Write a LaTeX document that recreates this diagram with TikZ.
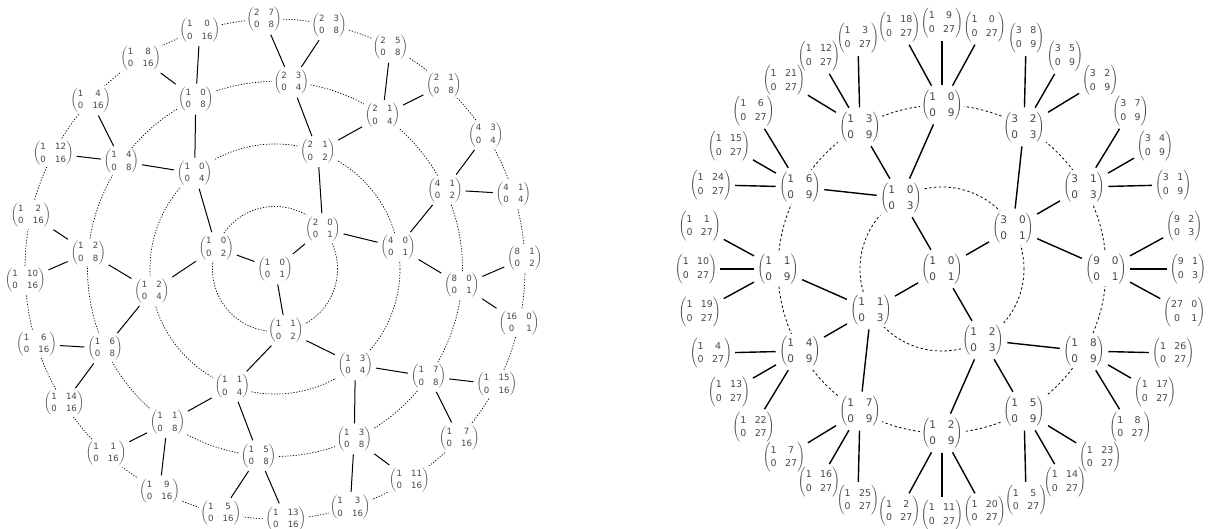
\documentclass[tikz,border=0pt]{standalone}
\usepackage{fontspec}
\setmainfont{DejaVu Sans}
\newcommand{\mtx}[4]{$\left(\begin{array}{@{}cc@{}}\mbox{#1}&\mbox{#2}\\\mbox{#3}&\mbox{#4}\end{array}\right)$}
\newcommand{\PN}[8]{\node[#1] (#2#5-#6-#7-#8) at ([shift={(#3:#4)}]#2C) {\mtx{#5}{#6}{#7}{#8}};}
\tikzset{
  lnode/.style={font=\fontsize{8.6}{12.3}\selectfont\setlength\arraycolsep{4.6pt}, text=black!72, inner sep=1.5pt, fill=white},
  rin/.style={font=\fontsize{10.5}{15.8}\selectfont\setlength\arraycolsep{6pt}, text=black!72, inner sep=1.5pt, fill=white},
  rout/.style={font=\fontsize{9.4}{13.6}\selectfont\setlength\arraycolsep{4.2pt}, text=black!72, inner sep=1pt},
  ledge/.style={line width=1pt, shorten <=1.5pt, shorten >=1.5pt},
  redge/.style={line width=1.4pt, shorten <=2pt, shorten >=2pt},
  lcirc/.style={line width=0.7pt, dash pattern=on 1.2pt off 1.6pt},
  rcirc/.style={line width=0.8pt, dash pattern=on 2.4pt off 2.4pt}
}
\begin{document}
\begin{tikzpicture}
\useasboundingbox (0,0) rectangle (1208pt,-529pt);
\coordinate (lC) at (275pt,-269pt);
\coordinate (rC) at (942pt,-269pt);
\foreach \r in {62.5,125,187.5,250} \draw[lcirc] (lC) circle[radius=\r pt];
\foreach \r in {82,164} \draw[rcirc] (rC) circle[radius=\r pt];
% left tree
\PN{lnode}{l}{0}{0pt}{1}{0}{0}{1}
\foreach \ang/\a/\b/\c/\d in {40/2/0/0/1,160/1/0/0/2,280/1/1/0/2}
  {\PN{lnode}{l}{\ang}{62.5pt}{\a}{\b}{\c}{\d}}
\foreach \ang/\a/\b/\c/\d in {10/4/0/0/1,70/2/1/0/2,130/1/0/0/4,190/1/2/0/4,250/1/1/0/4,310/1/3/0/4}
  {\PN{lnode}{l}{\ang}{125pt}{\a}{\b}{\c}{\d}}
\foreach \ang/\a/\b/\c/\d in {355/8/0/0/1,25/4/1/0/2,55/2/1/0/4,85/2/3/0/4,115/1/0/0/8,145/1/4/0/8,175/1/2/0/8,205/1/6/0/8,235/1/1/0/8,265/1/5/0/8,295/1/3/0/8,325/1/7/0/8}
  {\PN{lnode}{l}{\ang}{187.5pt}{\a}{\b}{\c}{\d}}
\foreach \ang/\a/\b/\c/\d in {347.5/16/0/0/1,2.5/8/1/0/2,17.5/4/1/0/4,32.5/4/3/0/4,47.5/2/1/0/8,62.5/2/5/0/8,77.5/2/3/0/8,92.5/2/7/0/8,107.5/1/0/0/16,122.5/1/8/0/16,137.5/1/4/0/16,152.5/1/12/0/16,167.5/1/2/0/16,182.5/1/10/0/16,197.5/1/6/0/16,212.5/1/14/0/16,227.5/1/1/0/16,242.5/1/9/0/16,257.5/1/5/0/16,272.5/1/13/0/16,287.5/1/3/0/16,302.5/1/11/0/16,317.5/1/7/0/16,332.5/1/15/0/16}
  {\PN{lnode}{l}{\ang}{250pt}{\a}{\b}{\c}{\d}}
\foreach \p/\q in {1-0-0-1/2-0-0-1,1-0-0-1/1-0-0-2,1-0-0-1/1-1-0-2,
  2-0-0-1/4-0-0-1,2-0-0-1/2-1-0-2,1-0-0-2/1-0-0-4,1-0-0-2/1-2-0-4,1-1-0-2/1-1-0-4,1-1-0-2/1-3-0-4,
  4-0-0-1/8-0-0-1,4-0-0-1/4-1-0-2,2-1-0-2/2-1-0-4,2-1-0-2/2-3-0-4,1-0-0-4/1-0-0-8,1-0-0-4/1-4-0-8,
  1-2-0-4/1-2-0-8,1-2-0-4/1-6-0-8,1-1-0-4/1-1-0-8,1-1-0-4/1-5-0-8,1-3-0-4/1-3-0-8,1-3-0-4/1-7-0-8,
  8-0-0-1/16-0-0-1,8-0-0-1/8-1-0-2,4-1-0-2/4-1-0-4,4-1-0-2/4-3-0-4,2-1-0-4/2-1-0-8,2-1-0-4/2-5-0-8,
  2-3-0-4/2-3-0-8,2-3-0-4/2-7-0-8,1-0-0-8/1-0-0-16,1-0-0-8/1-8-0-16,1-4-0-8/1-4-0-16,1-4-0-8/1-12-0-16,
  1-2-0-8/1-2-0-16,1-2-0-8/1-10-0-16,1-6-0-8/1-6-0-16,1-6-0-8/1-14-0-16,1-1-0-8/1-1-0-16,1-1-0-8/1-9-0-16,
  1-5-0-8/1-5-0-16,1-5-0-8/1-13-0-16,1-3-0-8/1-3-0-16,1-3-0-8/1-11-0-16,1-7-0-8/1-7-0-16,1-7-0-8/1-15-0-16}
  {\draw[ledge] (l\p) -- (l\q);}
% right tree
\PN{rin}{r}{0}{0pt}{1}{0}{0}{1}
\foreach \ang/\a/\b/\c/\d in {30/3/0/0/1,120/1/0/0/3,210/1/1/0/3,300/1/2/0/3}
  {\PN{rin}{r}{\ang}{82pt}{\a}{\b}{\c}{\d}}
\foreach \ang/\a/\b/\c/\d in {0/9/0/0/1,30/3/1/0/3,60/3/2/0/3,90/1/0/0/9,120/1/3/0/9,150/1/6/0/9,180/1/1/0/9,210/1/4/0/9,240/1/7/0/9,270/1/2/0/9,300/1/5/0/9,330/1/8/0/9}
  {\PN{rin}{r}{\ang}{164pt}{\a}{\b}{\c}{\d}}
\foreach \ang/\a/\b/\c/\d in {350/27/0/0/1,0/9/1/0/3,10/9/2/0/3,20/3/1/0/9,30/3/4/0/9,40/3/7/0/9,50/3/2/0/9,60/3/5/0/9,70/3/8/0/9,80/1/0/0/27,90/1/9/0/27,100/1/18/0/27,110/1/3/0/27,120/1/12/0/27,130/1/21/0/27,140/1/6/0/27,150/1/15/0/27,160/1/24/0/27,170/1/1/0/27,180/1/10/0/27,190/1/19/0/27,200/1/4/0/27,210/1/13/0/27,220/1/22/0/27,230/1/7/0/27,240/1/16/0/27,250/1/25/0/27,260/1/2/0/27,270/1/11/0/27,280/1/20/0/27,290/1/5/0/27,300/1/14/0/27,310/1/23/0/27,320/1/8/0/27,330/1/17/0/27,340/1/26/0/27}
  {\PN{rout}{r}{\ang}{246pt}{\a}{\b}{\c}{\d}}
\foreach \p/\q in {1-0-0-1/3-0-0-1,1-0-0-1/1-0-0-3,1-0-0-1/1-1-0-3,1-0-0-1/1-2-0-3,
  3-0-0-1/9-0-0-1,3-0-0-1/3-1-0-3,3-0-0-1/3-2-0-3,
  1-0-0-3/1-0-0-9,1-0-0-3/1-3-0-9,1-0-0-3/1-6-0-9,
  1-1-0-3/1-1-0-9,1-1-0-3/1-4-0-9,1-1-0-3/1-7-0-9,
  1-2-0-3/1-2-0-9,1-2-0-3/1-5-0-9,1-2-0-3/1-8-0-9,
  9-0-0-1/27-0-0-1,9-0-0-1/9-1-0-3,9-0-0-1/9-2-0-3,
  3-1-0-3/3-1-0-9,3-1-0-3/3-4-0-9,3-1-0-3/3-7-0-9,
  3-2-0-3/3-2-0-9,3-2-0-3/3-5-0-9,3-2-0-3/3-8-0-9,
  1-0-0-9/1-0-0-27,1-0-0-9/1-9-0-27,1-0-0-9/1-18-0-27,
  1-3-0-9/1-3-0-27,1-3-0-9/1-12-0-27,1-3-0-9/1-21-0-27,
  1-6-0-9/1-6-0-27,1-6-0-9/1-15-0-27,1-6-0-9/1-24-0-27,
  1-1-0-9/1-1-0-27,1-1-0-9/1-10-0-27,1-1-0-9/1-19-0-27,
  1-4-0-9/1-4-0-27,1-4-0-9/1-13-0-27,1-4-0-9/1-22-0-27,
  1-7-0-9/1-7-0-27,1-7-0-9/1-16-0-27,1-7-0-9/1-25-0-27,
  1-2-0-9/1-2-0-27,1-2-0-9/1-11-0-27,1-2-0-9/1-20-0-27,
  1-5-0-9/1-5-0-27,1-5-0-9/1-14-0-27,1-5-0-9/1-23-0-27,
  1-8-0-9/1-8-0-27,1-8-0-9/1-17-0-27,1-8-0-9/1-26-0-27}
  {\draw[redge] (r\p) -- (r\q);}
\end{tikzpicture}
\end{document}
